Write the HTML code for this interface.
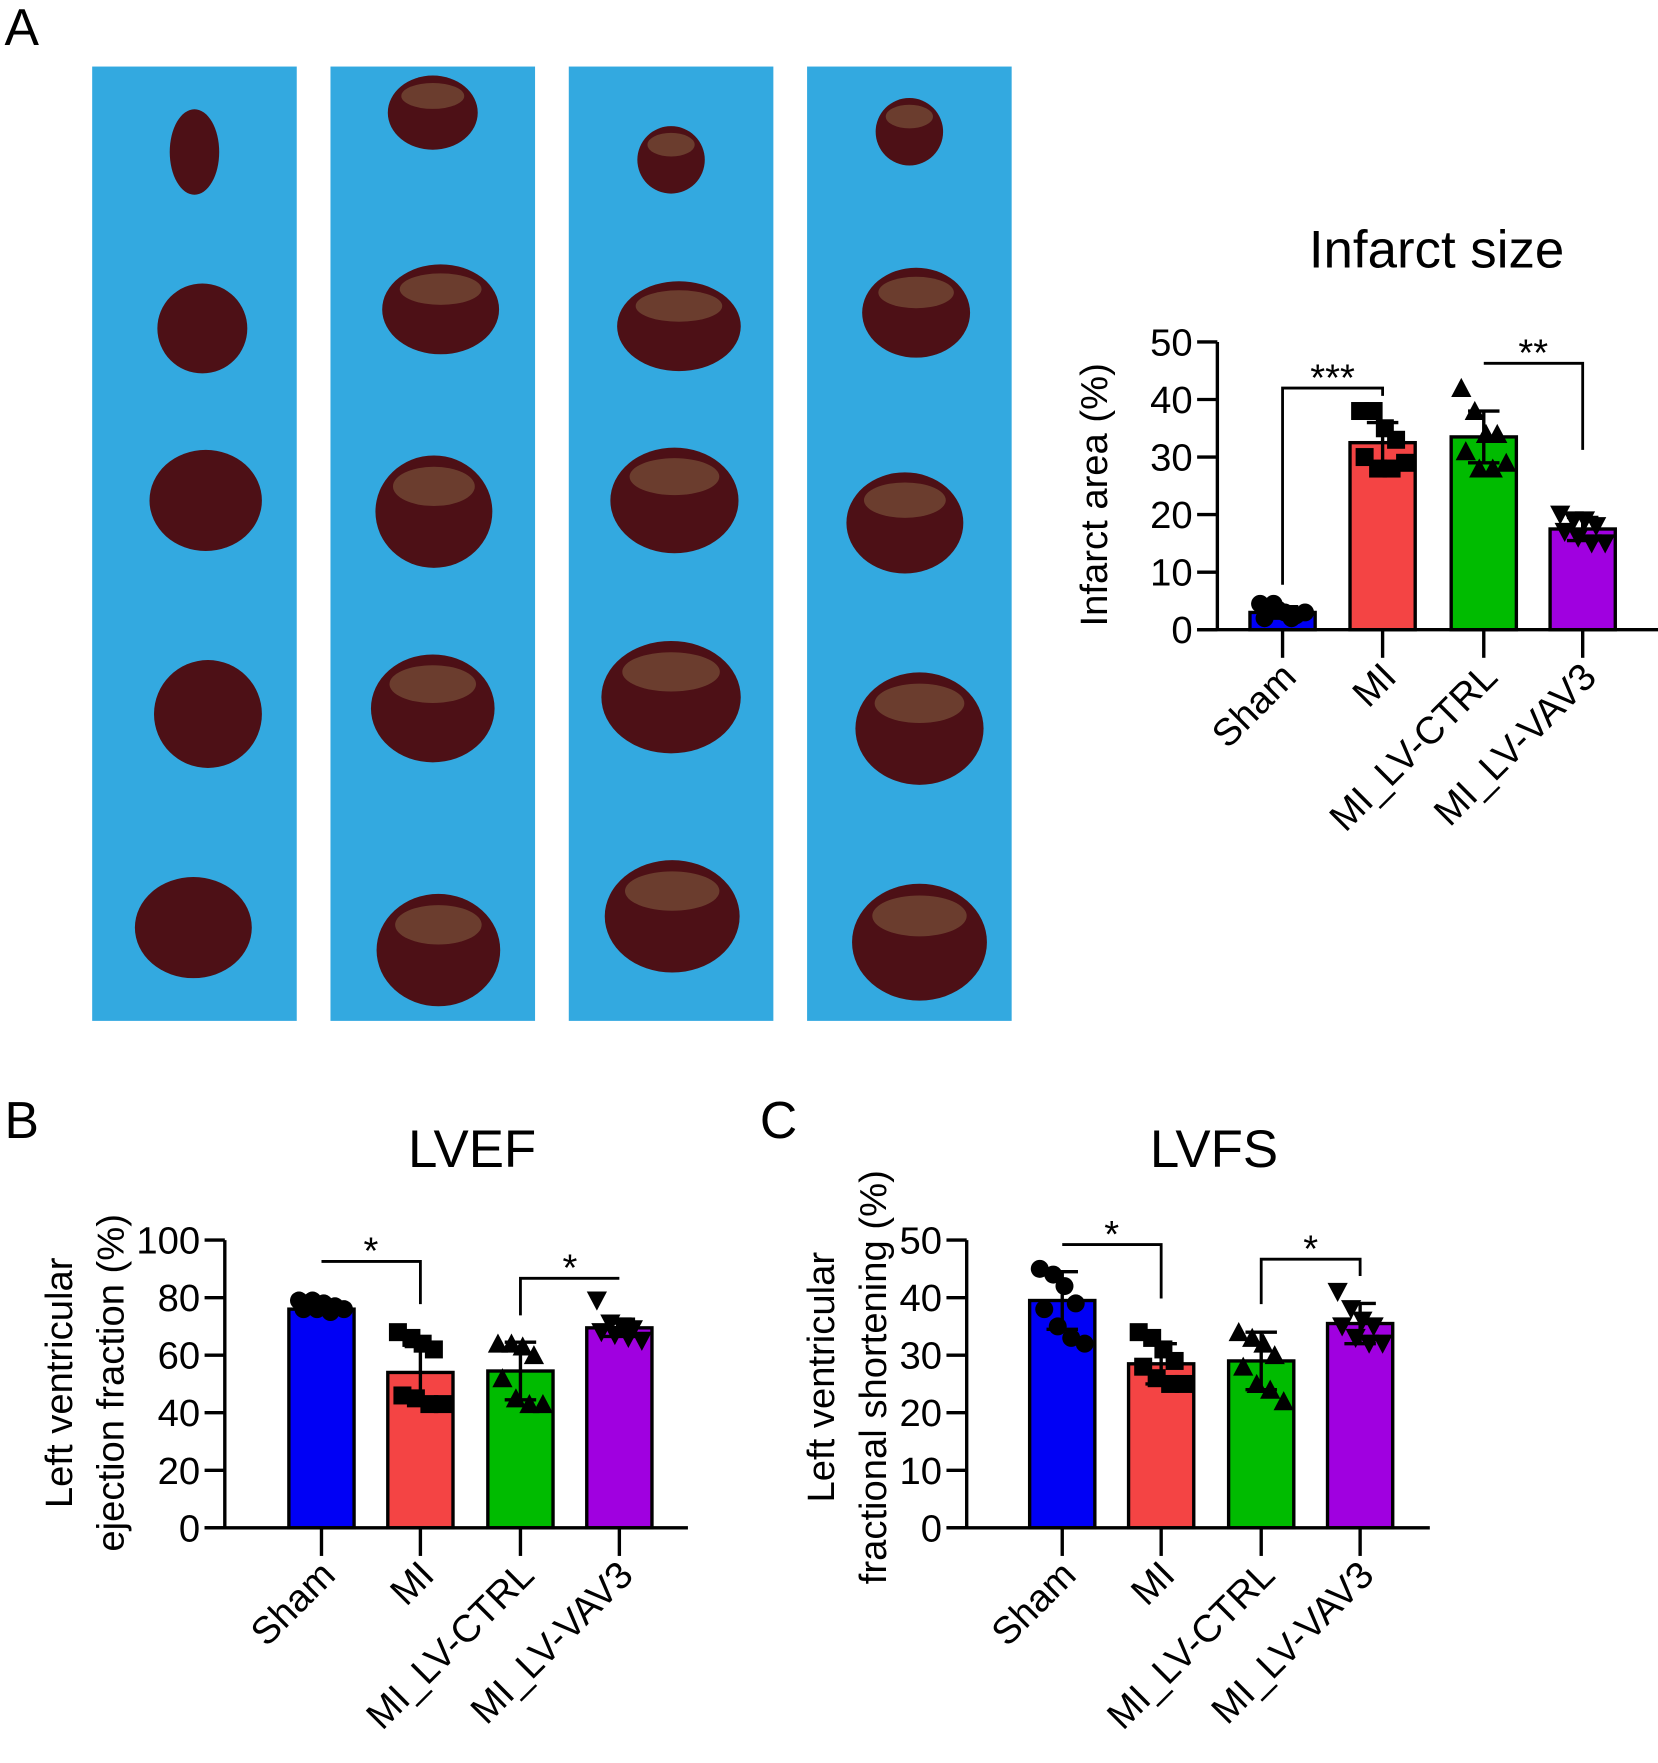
<!DOCTYPE html>
<html><head><meta charset="utf-8">
<style>
html,body{margin:0;padding:0;background:#fff;}
svg{display:block;font-family:"Liberation Sans",Arial,sans-serif;}
</style></head>
<body>
<svg id="fig" width="1658" height="1763" viewBox="0 0 1475 1568" xmlns="http://www.w3.org/2000/svg">
<rect width="1475" height="1568" fill="#fff"/>
<text x="4" y="40" font-size="46">A</text>
<text x="4" y="1012" font-size="46">B</text>
<text x="676" y="1012" font-size="46">C</text>
<g id="photos"></g>
<g id="chartA"></g>
<g id="chartB"></g>
<g id="chartC"></g>
</svg>
<script>
const categories = ["Sham","MI","MI_LV-CTRL","MI_LV-VAV3"];
const colors = ["#0000f5","#f44444","#00bb00","#a000e0"];
// Infarct size
const infarctMeans = [3, 32.5, 33.5, 17.5];
const infarctSD = [1, 3.5, 4.5, 2];
const infarctPoints = [[4.5,4.5,3,2.5,2,3.5,2,3],[38,38,35,33,30,28,28,29],[42,38,34,34,31,28,28,29],[20,19,19,18,17,16,15,15]];
const infarctTicks = [0,10,20,30,40,50];
// LVEF
const lvefMeans = [76, 54, 54.5, 69.5];
const lvefSD = [1.5, 9, 10, 3];
const lvefPoints = [[79,79,78,77,76,76,75,76],[68,66,64,62,46,45,43,43],[64,64,63,60,52,45,43,43],[79,71,70,69,68,67,66,65]];
const lvefTicks = [0,20,40,60,80,100];
// LVFS
const lvfsMeans = [39.5, 28.5, 29, 35.5];
const lvfsSD = [5, 3.5, 5, 3.5];
const lvfsPoints = [[45,44,42,39,38,35,33,32],[34,33,31,29,28,26,25,25],[34,33,32,30,28,25,24,22],[41,38,36,35,35,33,32,32]];
const lvfsTicks = [0,10,20,30,40,50];

const NS="http://www.w3.org/2000/svg";
function mk(parent,tag,attrs,txt){const e=document.createElementNS(NS,tag);for(const k in attrs)e.setAttribute(k,attrs[k]);if(txt!==undefined)e.textContent=txt;parent.appendChild(e);return e;}

const photos=document.getElementById('photos');
const strips=[82,294,506,718];
const hearts=[
 [[173,135,22,38,0],[180,292,40,40,0],[183,445,50,45,0],[185,635,48,48,0],[172,825,52,45,0]],
 [[385,100,40,33,1],[392,275,52,40,1],[386,455,52,50,1],[385,630,55,48,1],[390,845,55,50,1]],
 [[597,142,30,30,1],[604,290,55,40,1],[600,445,57,47,1],[597,620,62,50,1],[598,815,60,50,1]],
 [[809,117,30,30,1],[815,278,48,40,1],[805,465,52,45,1],[818,648,57,50,1],[818,838,60,52,1]]];
strips.forEach((x,i)=>{
  const r=mk(photos,'rect',{x:x,y:59,width:182,height:849,fill:'#33a9e0'});
  
  
  hearts[i].forEach((h,j)=>{
    const e=mk(photos,'ellipse',{cx:h[0],cy:h[1],rx:h[2],ry:h[3],fill:'#4d1016'});
    
    
    if(h[4]){mk(photos,'ellipse',{cx:h[0],cy:h[1]-h[3]*0.45,rx:h[2]*0.7,ry:h[3]*0.35,fill:'#8a6a45',opacity:0.5});}
  });
});

function marker(g,type,x,y){
  const s=8;
  if(type==0) return mk(g,'circle',{cx:x,cy:y,r:s,fill:'#000'});
  if(type==1) return mk(g,'rect',{x:x-s,y:y-s,width:2*s,height:2*s,fill:'#000'});
  if(type==2) return mk(g,'polygon',{points:`${x},${y-s-1} ${x-s-1},${y+s} ${x+s+1},${y+s}`,fill:'#000'});
  return mk(g,'polygon',{points:`${x},${y+s+1} ${x-s-1},${y-s} ${x+s+1},${y-s}`,fill:'#000'});
}
const jitter=[-20,-8,2,12,-16,-4,8,20];

function chart(g,o){
  const yS=v=>o.y0-(v/o.max)*(o.y0-o.yTop);
  const xs=o.xs;
  const t=mk(g,'text',{x:o.titleX,y:o.titleY,'font-size':47,'text-anchor':'middle'},o.title);
  
  
  o.ylab.forEach((l,i)=>{
    const yl=mk(g,'text',{x:0,y:0,'font-size':34,'text-anchor':'middle',transform:`translate(${o.ylabX[i]},${o.ylabY}) rotate(-90)`},l);
    
    
  });
  o.means.forEach((m,i)=>{
    const b=mk(g,'rect',{x:xs[i]-29,y:yS(m),width:58,height:o.y0-yS(m),fill:colors[i],stroke:'#000','stroke-width':3});
    
    
  });
  o.points.forEach((arr,i)=>{
    arr.forEach((v,j)=>{
      const p=marker(g,i,xs[i]+jitter[j],yS(v));
      
      
    });
  });
  o.means.forEach((m,i)=>{
    const hi=yS(m+o.sd[i]),lo=yS(m-o.sd[i]);
    const e=mk(g,'path',{d:`M${xs[i]},${lo}V${hi}M${xs[i]-14},${hi}H${xs[i]+14}M${xs[i]-14},${lo}H${xs[i]+14}`,stroke:'#000','stroke-width':3,fill:'none'});
    
    
  });
  const ya=mk(g,'line',{x1:o.ax,y1:o.yTop,x2:o.ax,y2:o.y0,stroke:'#000','stroke-width':3});
  
  
  const xa=mk(g,'line',{x1:o.ax-18,y1:o.y0,x2:o.xEnd,y2:o.y0,stroke:'#000','stroke-width':3});
  
  
  o.ticks.forEach(v=>{
    mk(g,'line',{x1:o.ax-18,y1:yS(v),x2:o.ax,y2:yS(v),stroke:'#000','stroke-width':3});
    const tl=mk(g,'text',{x:o.ax-22,y:yS(v)+12,'font-size':34,'text-anchor':'end'},String(v));
    
    
  });
  categories.forEach((c,i)=>{
    mk(g,'line',{x1:xs[i],y1:o.y0,x2:xs[i],y2:o.y0+25,stroke:'#000','stroke-width':3});
    const cl=mk(g,'text',{x:0,y:0,'font-size':34,'text-anchor':'end',transform:`translate(${xs[i]+14},${o.y0+44}) rotate(-45)`},c);
    
    
  });
  o.sig.forEach(s=>{
    const a=xs[s.a],b=xs[s.b];
    const p=mk(g,'path',{d:`M${a},${s.ya}V${s.y}H${b}V${s.yb}`,stroke:'#000','stroke-width':2.5,fill:'none'});
    
    
    const st=mk(g,'text',{x:(a+b)/2,y:s.y+2,'font-size':34,'text-anchor':'middle'},s.t);
    
    
  });
}

chart(document.getElementById('chartA'),{title:'Infarct size',titleX:1278,titleY:238,ylab:['Infarct area (%)'],ylabX:[985],ylabY:440,
  xs:[1141,1230,1320,1408],ax:1083,xEnd:1475,y0:560,yTop:304,max:50,means:infarctMeans,sd:infarctSD,points:infarctPoints,ticks:infarctTicks,
  sig:[{a:0,b:1,y:345,ya:520,yb:352,t:'***'},{a:2,b:3,y:323,ya:323,yb:400,t:'**'}]});
chart(document.getElementById('chartB'),{title:'LVEF',titleX:420,titleY:1038,ylab:['Left ventricular','ejection fraction (%)'],ylabX:[64,110],ylabY:1230,
  xs:[286,374,463,551],ax:200,xEnd:612,y0:1359,yTop:1103,max:100,means:lvefMeans,sd:lvefSD,points:lvefPoints,ticks:lvefTicks,
  sig:[{a:0,b:1,y:1122,ya:1122,yb:1160,t:'*'},{a:2,b:3,y:1137,ya:1170,yb:1137,t:'*'}]});
chart(document.getElementById('chartC'),{title:'LVFS',titleX:1080,titleY:1038,ylab:['Left ventricular','fractional shortening (%)'],ylabX:[742,788],ylabY:1225,
  xs:[945,1033,1122,1210],ax:860,xEnd:1272,y0:1359,yTop:1103,max:50,means:lvfsMeans,sd:lvfsSD,points:lvfsPoints,ticks:lvfsTicks,
  sig:[{a:0,b:1,y:1107,ya:1107,yb:1155,t:'*'},{a:2,b:3,y:1120,ya:1160,yb:1135,t:'*'}]});
</script>
</body></html>
